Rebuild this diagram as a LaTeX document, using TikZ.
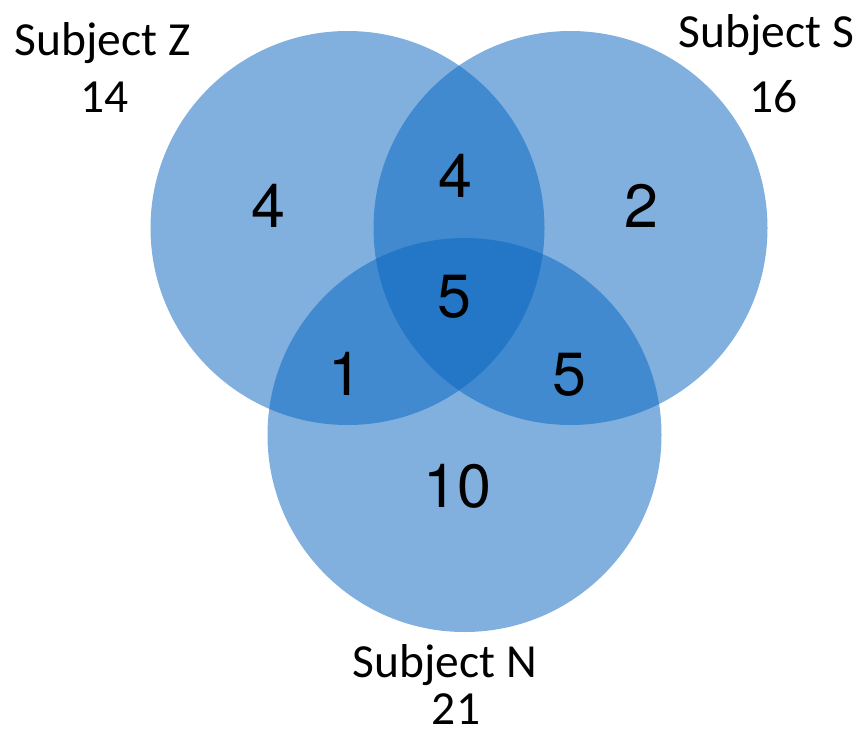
\documentclass[tikz,border=0pt]{standalone}
\usepackage{fontspec}
\newfontfamily\labelfont{Carlito}
\newfontfamily\countfont{TeX Gyre Heros}
\definecolor{setblue}{RGB}{7,101,192}
\begin{document}
\begin{tikzpicture}[x=1pt,y=-1pt,
  setdisc/.style={fill=setblue,fill opacity=0.51},
  setname/.style={anchor=base,inner sep=0pt,font=\labelfont\fontsize{47.5}{47.5}\selectfont},
  count/.style={anchor=base,inner sep=0pt,font=\countfont\fontsize{61}{61}\selectfont}]
\useasboundingbox (0,0) rectangle (864,731);
% the three sets
\fill[setdisc] (347.5,228) circle[radius=197];
\fill[setdisc] (570.5,228) circle[radius=197];
\fill[setdisc] (464.5,435) circle[radius=197];
% set names and totals
\node[setname] (zname) at (102.5,55) {Subject Z};
\node[setname] (ztotal) at (104.5,112) {14};
\node[setname] (sname) at (766.5,47) {Subject S};
\node[setname] (stotal) at (773.5,112) {16};
\node[setname] (nname) at (445,677) {Subject N};
\node[setname] (ntotal) at (456,724) {21};
% region counts
\node[count] (zonly) at (268,227) {4};
\node[count] (zs) at (455,197) {4};
\node[count] (sonly) at (641,227) {2};
\node[count] (zsn) at (454,317) {5};
\node[count] (zn) at (345,395) {1};
\node[count] (sn) at (569,395) {5};
\node[count] (nonly) at (457,507) {10};
\end{tikzpicture}
\end{document}
